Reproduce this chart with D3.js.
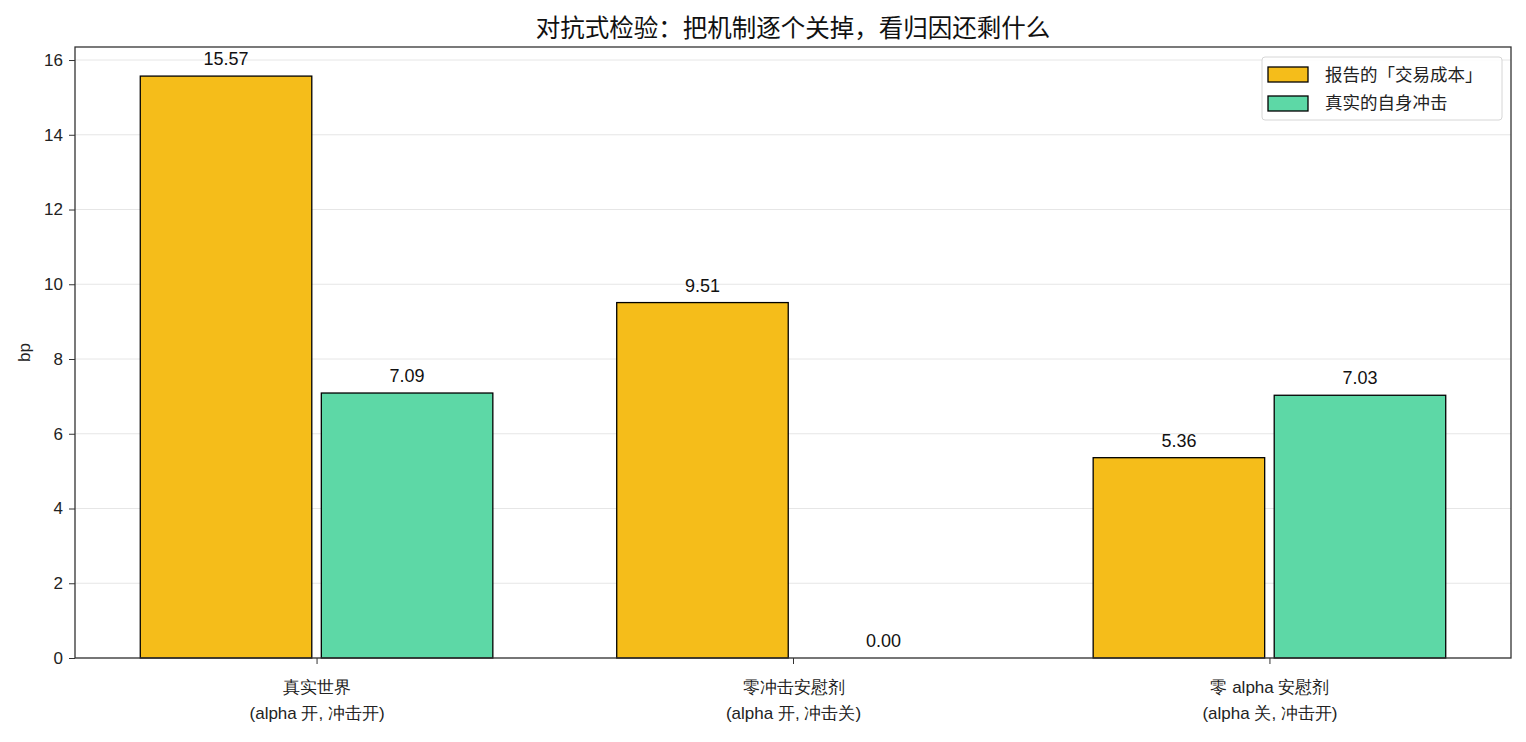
<!DOCTYPE html>
<html lang="zh">
<head>
<meta charset="UTF-8">
<title>对抗式检验</title>
<script src="https://d3js.org/d3.v7.min.js"></script>
<style>
    body { margin: 0; background: #fff; }
    svg { display: block; font-family: "Liberation Sans", "Noto Sans CJK SC", sans-serif; }
    .tick text { font-size: 17px; fill: #222; }
    .tick line { stroke: #333; }
    .domain { stroke: #333; }
</style>
</head>
<body>
<svg id="chart" width="1526" height="742"></svg>
<script>
    // data
    const categories = ["真实世界\n(alpha 开, 冲击开)", "零冲击安慰剂\n(alpha 开, 冲击关)", "零 alpha 安慰剂\n(alpha 关, 冲击开)"];
    const reportedCost = [15.57, 9.51, 5.36];
    const trueImpact = [7.09, 0.00, 7.03];
    const seriesNames = ["报告的「交易成本」", "真实的自身冲击"];
    const seriesColors = ["#f5bd1a", "#5dd8a6"];
    const yTicks = [0, 2, 4, 6, 8, 10, 12, 14, 16];

    const W = 1526, H = 742;
    const margin = { left: 75, right: 15, top: 47, bottom: 84 };
    const svg = d3.select("#chart");

    const barW = 0.36, offs = 0.19;
    const x = d3.scaleLinear()
        .domain([-0.507, categories.length - 1 + 0.507])
        .range([margin.left, W - margin.right]);
    const y = d3.scaleLinear()
        .domain([0, 15.57 * 1.05])
        .range([H - margin.bottom, margin.top]);

    // grid
    svg.append("g").selectAll("line").data(yTicks).join("line")
        .attr("x1", margin.left).attr("x2", W - margin.right)
        .attr("y1", d => y(d)).attr("y2", d => y(d))
        .attr("stroke", "#e6e6e6").attr("stroke-width", 1);

    const series = [reportedCost, trueImpact];
    series.forEach((vals, si) => {
        const dx = si === 0 ? -offs : offs;
        const g = svg.append("g");
        g.selectAll("rect").data(vals).join("rect")
            .attr("x", (d, i) => x(i + dx - barW / 2))
            .attr("width", x(barW) - x(0))
            .attr("y", d => y(d))
            .attr("height", d => y(0) - y(d))
            .attr("fill", seriesColors[si])
            .attr("stroke", "#000").attr("stroke-width", 1.3);
        g.selectAll("text").data(vals).join("text")
            .attr("x", (d, i) => x(i + dx))
            .attr("y", d => y(d) - 11)
            .attr("text-anchor", "middle")
            .attr("font-size", 18).attr("fill", "#111")
            .text(d => d.toFixed(2));
    });

    // axes
    const yAxis = svg.append("g")
        .attr("transform", `translate(${margin.left},0)`)
        .call(d3.axisLeft(y).tickValues(yTicks).tickSize(6).tickPadding(6));
    yAxis.select(".domain").remove();

    const xAxis = svg.append("g")
        .attr("transform", `translate(0,${H - margin.bottom})`)
        .call(d3.axisBottom(x).tickValues(d3.range(categories.length)).tickSize(6).tickFormat(""));
    xAxis.select(".domain").remove();
    xAxis.selectAll(".tick").each(function (d) {
        const lines = categories[d].split("\n");
        const t = d3.select(this).append("text")
            .attr("text-anchor", "middle").attr("fill", "#222").attr("font-size", 18);
        lines.forEach((s, k) => t.append("tspan").attr("x", 0).attr("y", 35 + k * 26).text(s));
    });

    // frame
    svg.append("rect")
        .attr("x", margin.left).attr("y", margin.top)
        .attr("width", W - margin.left - margin.right)
        .attr("height", H - margin.top - margin.bottom)
        .attr("fill", "none").attr("stroke", "#333").attr("stroke-width", 1.3);

    // labels
    svg.append("text")
        .attr("x", (margin.left + W - margin.right) / 2).attr("y", 37)
        .attr("text-anchor", "middle").attr("font-size", 24.5).attr("fill", "#111")
        .text("对抗式检验：把机制逐个关掉，看归因还剩什么");
    svg.append("text")
        .attr("transform", `translate(30,${(margin.top + H - margin.bottom) / 2}) rotate(-90)`)
        .attr("text-anchor", "middle").attr("font-size", 17).attr("fill", "#222")
        .text("bp");

    // legend
    const lg = svg.append("g").attr("transform", "translate(1262,57)");
    lg.append("rect").attr("width", 240).attr("height", 63).attr("rx", 3)
        .attr("fill", "#fff").attr("fill-opacity", 0.85)
        .attr("stroke", "#d6d6d6");
    seriesNames.forEach((n, i) => {
        lg.append("rect").attr("x", 6).attr("y", 10 + i * 29).attr("width", 40).attr("height", 15)
            .attr("fill", seriesColors[i]).attr("stroke", "#000").attr("stroke-width", 1.3);
        lg.append("text").attr("x", 63).attr("y", 24 + i * 28)
            .attr("font-size", 17.5).attr("fill", "#222").text(n);
    });
</script>
</body>
</html>
